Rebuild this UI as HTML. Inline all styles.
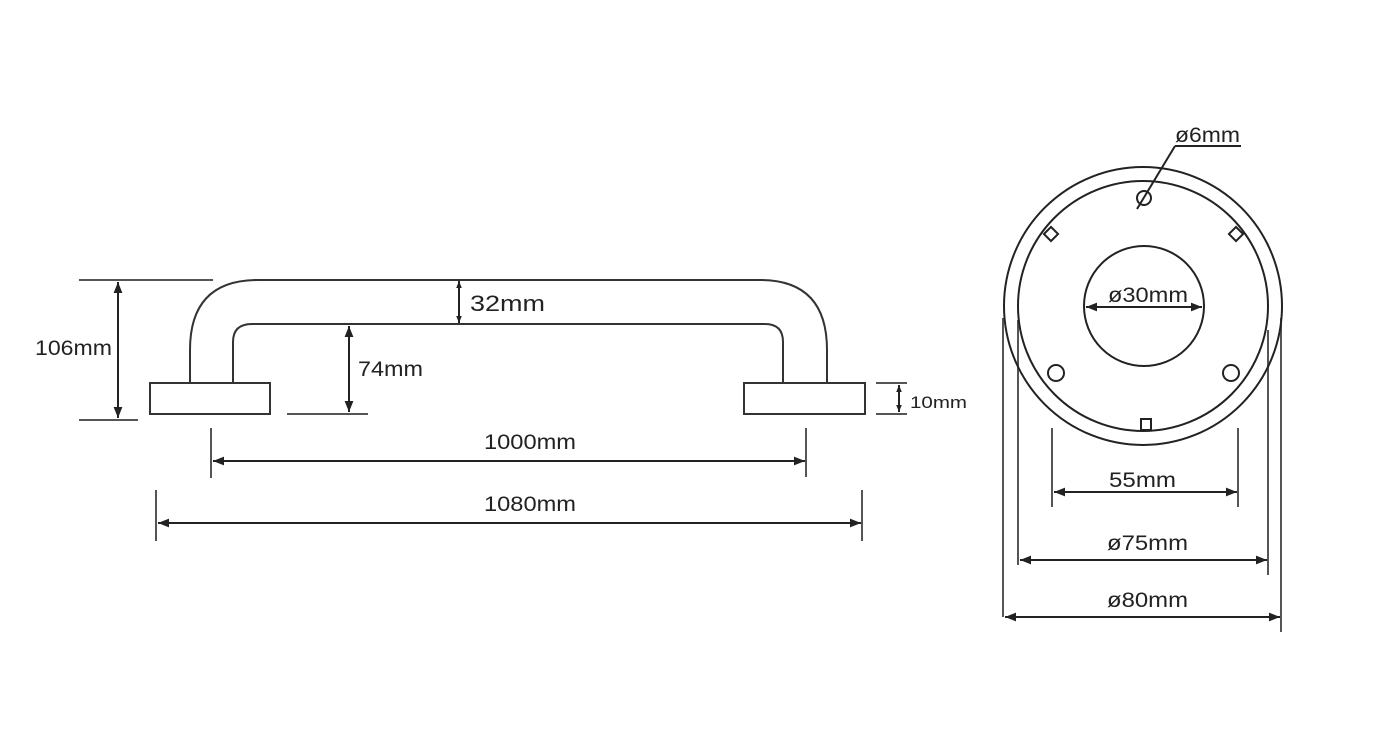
<!DOCTYPE html>
<html><head><meta charset="utf-8"><style>
html,body{margin:0;padding:0;background:#fff;}
svg{display:block;}
text{font-family:"Liberation Sans","DejaVu Sans",sans-serif;fill:#222;font-size:21px;}
</style></head><body>
<svg width="1383" height="741" viewBox="0 0 1383 741" xmlns="http://www.w3.org/2000/svg">
<defs>
<marker id="a" viewBox="0 0 10 10" refX="10" refY="5" markerWidth="11" markerHeight="11" markerUnits="userSpaceOnUse" orient="auto-start-reverse"><path d="M0,1 L10,5 L0,9 z" fill="#222"/></marker>
<marker id="s" viewBox="0 0 10 10" refX="10" refY="5" markerWidth="7" markerHeight="7" markerUnits="userSpaceOnUse" orient="auto-start-reverse"><path d="M0,1 L10,5 L0,9 z" fill="#222"/></marker>
</defs>
<g fill="none" stroke="#333" stroke-width="2">
<path d="M190,383 V350 Q190,280 258,280 H760 Q827,280 827,350 V383"/>
<path d="M233,383 V342 Q233,324 252,324 H765 Q783,324 783,342 V383"/>
<rect x="150" y="383" width="120" height="31"/>
<rect x="744" y="383" width="121" height="31"/>
</g>
<g stroke="#555" stroke-width="2" fill="none">
<line x1="79" y1="280" x2="213" y2="280"/>
<line x1="79" y1="420" x2="138" y2="420"/>
<line x1="287" y1="414" x2="368" y2="414"/>
<line x1="876" y1="383" x2="907" y2="383"/>
<line x1="876" y1="414" x2="907" y2="414"/>
<line x1="211" y1="428" x2="211" y2="478"/>
<line x1="806" y1="428" x2="806" y2="477"/>
<line x1="156" y1="490" x2="156" y2="541"/>
<line x1="862" y1="490" x2="862" y2="541"/>
<line x1="1052" y1="428" x2="1052" y2="507"/>
<line x1="1238" y1="428" x2="1238" y2="507"/>
<line x1="1018" y1="320" x2="1018" y2="565"/>
<line x1="1268" y1="330" x2="1268" y2="575"/>
<line x1="1003" y1="318" x2="1003" y2="617"/>
<line x1="1281" y1="318" x2="1281" y2="632"/>
</g>
<g stroke="#222" stroke-width="2" fill="none">
<line x1="118" y1="282" x2="118" y2="418" marker-start="url(#a)" marker-end="url(#a)"/>
<line x1="459" y1="281" x2="459" y2="323" marker-start="url(#s)" marker-end="url(#s)"/>
<line x1="349" y1="326" x2="349" y2="412" marker-start="url(#a)" marker-end="url(#a)"/>
<line x1="899" y1="385" x2="899" y2="412" marker-start="url(#s)" marker-end="url(#s)"/>
<line x1="213" y1="461" x2="805" y2="461" marker-start="url(#a)" marker-end="url(#a)"/>
<line x1="158" y1="523" x2="861" y2="523" marker-start="url(#a)" marker-end="url(#a)"/>
<line x1="1054" y1="492" x2="1237" y2="492" marker-start="url(#a)" marker-end="url(#a)"/>
<line x1="1020" y1="560" x2="1267" y2="560" marker-start="url(#a)" marker-end="url(#a)"/>
<line x1="1005" y1="617" x2="1280" y2="617" marker-start="url(#a)" marker-end="url(#a)"/>
<line x1="1086" y1="307" x2="1202" y2="307" marker-start="url(#a)" marker-end="url(#a)"/>
</g>
<g stroke="#222" stroke-width="2" fill="none">
<circle cx="1143" cy="306" r="139"/>
<circle cx="1143" cy="306" r="125"/>
<circle cx="1144" cy="306" r="60"/>
<circle cx="1144" cy="198" r="7"/>
<circle cx="1056" cy="373" r="8"/>
<circle cx="1231" cy="373" r="8"/>
<rect x="1046" y="229" width="10" height="10" transform="rotate(45 1051 234)"/>
<rect x="1231" y="229" width="10" height="10" transform="rotate(45 1236 234)"/>
<rect x="1141" y="419" width="10" height="11"/>
<line x1="1137" y1="209" x2="1175" y2="146"/>
<line x1="1175" y1="146" x2="1241" y2="146"/>
</g>
<g>
<text x="35" y="355" textLength="77" lengthAdjust="spacingAndGlyphs">106mm</text>
<text x="470" y="311" textLength="75" lengthAdjust="spacingAndGlyphs" style="font-size:22px">32mm</text>
<text x="358" y="376" textLength="65" lengthAdjust="spacingAndGlyphs">74mm</text>
<text x="910" y="408" textLength="57" lengthAdjust="spacingAndGlyphs" style="font-size:17px">10mm</text>
<text x="484" y="449" textLength="92" lengthAdjust="spacingAndGlyphs">1000mm</text>
<text x="484" y="511" textLength="92" lengthAdjust="spacingAndGlyphs">1080mm</text>
<text x="1175" y="142" textLength="65" lengthAdjust="spacingAndGlyphs">ø6mm</text>
<text x="1108" y="302" textLength="80" lengthAdjust="spacingAndGlyphs">ø30mm</text>
<text x="1109" y="487" textLength="67" lengthAdjust="spacingAndGlyphs">55mm</text>
<text x="1107" y="550" textLength="81" lengthAdjust="spacingAndGlyphs">ø75mm</text>
<text x="1107" y="607" textLength="81" lengthAdjust="spacingAndGlyphs">ø80mm</text>
</g>
</svg>
</body></html>
